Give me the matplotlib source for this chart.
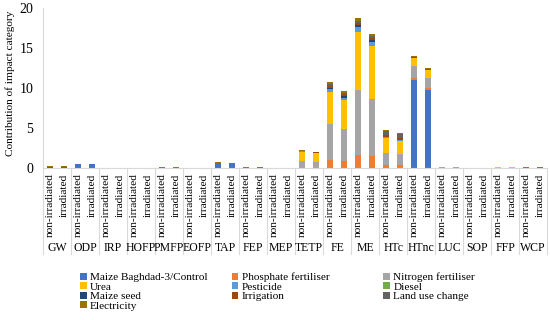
import numpy as np
import matplotlib.pyplot as plt
import matplotlib.transforms as mtransforms

plt.rcParams['font.family'] = ['Liberation Serif', 'DejaVu Serif']

categories = ['GW', 'ODP', 'IRP', 'HOFP', 'PMFP', 'EOFP', 'TAP', 'FEP', 'MEP',
              'TETP', 'FE', 'ME', 'HTc', 'HTnc', 'LUC', 'SOP', 'FFP', 'WCP']
treatments = ['non-irradiated', 'irradiated']

# values per bar: (non-irradiated, irradiated) for each category in order
control = [0.05, 0.04, 0.5, 0.45, 0, 0, 0, 0, 0.05, 0.05, 0, 0, 0.65, 0.6, 0, 0, 0, 0,
           0, 0, 0.05, 0.05, 0.05, 0.05, 0.05, 0.05, 11.0, 9.8, 0, 0, 0, 0, 0, 0, 0, 0]
phosphate = [0, 0, 0, 0, 0, 0, 0, 0, 0, 0, 0, 0, 0, 0, 0, 0, 0, 0,
             0.05, 0.05, 0.9, 0.8, 1.6, 1.45, 0.35, 0.3, 0.3, 0.25, 0, 0, 0, 0, 0, 0, 0.05, 0.05]
nitrogen = [0, 0, 0, 0, 0, 0, 0, 0, 0, 0, 0, 0, 0, 0, 0, 0, 0, 0,
            0.85, 0.75, 4.55, 4.05, 8.1, 7.15, 1.5, 1.4, 1.4, 1.2, 0.1, 0.1, 0, 0, 0, 0, 0, 0]
urea = [0, 0, 0, 0, 0, 0, 0.03, 0.03, 0, 0, 0.03, 0.03, 0, 0, 0.06, 0.06, 0, 0,
        1.15, 1.05, 3.95, 3.55, 7.3, 6.6, 1.8, 1.6, 1.05, 0.95, 0, 0, 0, 0, 0.08, 0.08, 0, 0]
pesticide = [0, 0, 0, 0, 0, 0, 0, 0, 0, 0, 0, 0, 0, 0, 0, 0, 0, 0,
             0.05, 0.05, 0.35, 0.3, 0.55, 0.5, 0.15, 0.15, 0.05, 0.05, 0, 0, 0, 0, 0, 0, 0, 0]
diesel = [0, 0, 0, 0, 0, 0, 0, 0, 0, 0, 0, 0, 0, 0, 0, 0, 0, 0,
          0, 0, 0.05, 0.05, 0.05, 0.05, 0, 0, 0, 0, 0, 0, 0, 0, 0, 0, 0, 0]
maize_seed = [0, 0, 0, 0, 0, 0, 0, 0, 0, 0, 0, 0, 0, 0, 0, 0, 0, 0,
              0, 0, 0.2, 0.15, 0.2, 0.15, 0.05, 0.05, 0, 0, 0, 0, 0, 0, 0, 0, 0, 0]
irrigation = [0.05, 0.04, 0.05, 0.05, 0, 0, 0, 0, 0, 0, 0, 0, 0, 0, 0, 0, 0, 0,
              0.05, 0.05, 0.25, 0.25, 0.3, 0.35, 0.2, 0.2, 0.05, 0.05, 0, 0, 0, 0, 0, 0, 0, 0]
land_use = [0, 0, 0, 0, 0, 0, 0, 0, 0, 0, 0, 0, 0, 0, 0, 0, 0, 0,
            0, 0, 0.15, 0.15, 0.25, 0.2, 0.55, 0.5, 0.05, 0.05, 0, 0, 0, 0, 0, 0, 0, 0]
electricity = [0.2, 0.18, 0, 0, 0, 0, 0, 0, 0.1, 0.1, 0, 0, 0.08, 0.07, 0.04, 0.04, 0, 0,
               0.1, 0.08, 0.25, 0.25, 0.4, 0.3, 0.1, 0.08, 0.1, 0.1, 0, 0, 0, 0, 0.02, 0.02, 0.05, 0.05]

series = [
    ('Maize Baghdad-3/Control', control, '#4472C4'),
    ('Phosphate fertiliser', phosphate, '#ED7D31'),
    ('Nitrogen fertiliser', nitrogen, '#A5A5A5'),
    ('Urea', urea, '#FFC000'),
    ('Pesticide', pesticide, '#5B9BD5'),
    ('Diesel', diesel, '#70AD47'),
    ('Maize seed', maize_seed, '#264478'),
    ('Irrigation', irrigation, '#9E480E'),
    ('Land use change', land_use, '#636363'),
    ('Electricity', electricity, '#997300'),
]

n = len(categories)
pos = np.array([i + (j - 0.5) * 0.5 for i in range(n) for j in range(2)])

fig = plt.figure(figsize=(5.5, 3.2), dpi=100)
ax = fig.add_axes([0.078, 0.475, 0.917, 0.5])

bottom = np.zeros(len(pos))
handles = []
for name, vals, col in series:
    vals = np.array(vals, dtype=float)
    h = ax.bar(pos, vals, width=0.22, bottom=bottom, color=col, label=name)
    handles.append(h)
    bottom += vals

ax.set_xlim(-0.5, n - 0.5)
ax.set_ylim(0, 20)
ax.set_yticks([0, 5, 10, 15, 20])
ax.tick_params(axis='y', length=0, labelsize=10, pad=7)
ax.set_ylabel('Contribution of impact category', fontsize=8.1)
ax.yaxis.set_label_coords(-0.055, 0.53)

ax.set_xticks(pos)
ax.set_xticklabels(treatments * n, rotation=90, fontsize=8.2, va='top')
ax.tick_params(axis='x', length=0, pad=4)

for s in ['top', 'right']:
    ax.spines[s].set_visible(False)
ax.spines['left'].set_color('#D9D9D9')
ax.spines['bottom'].set_color('#D9D9D9')

trans = mtransforms.blended_transform_factory(ax.transData, ax.transAxes)
for i in range(n + 1):
    ax.plot([i - 0.5, i - 0.5], [0, -0.54], color='#D9D9D9', lw=0.8,
            transform=trans, clip_on=False)
for i, c in enumerate(categories):
    ax.text(i, -0.5, c, transform=trans, ha='center', va='center', fontsize=8.5)

# three legend columns at fixed positions, filled row by row
col_x = [0.145, 0.421, 0.697]
for c in range(3):
    idx = list(range(c, len(series), 3))
    fig.legend([handles[k] for k in idx], [series[k][0] for k in idx],
               loc='upper left', bbox_to_anchor=(col_x[c], 0.148),
               frameon=False, fontsize=8.1, handlelength=0.6, handleheight=0.6,
               handletextpad=0.3, labelspacing=0.0,
               borderaxespad=0, borderpad=0)

fig.savefig('out.png', dpi=100)
